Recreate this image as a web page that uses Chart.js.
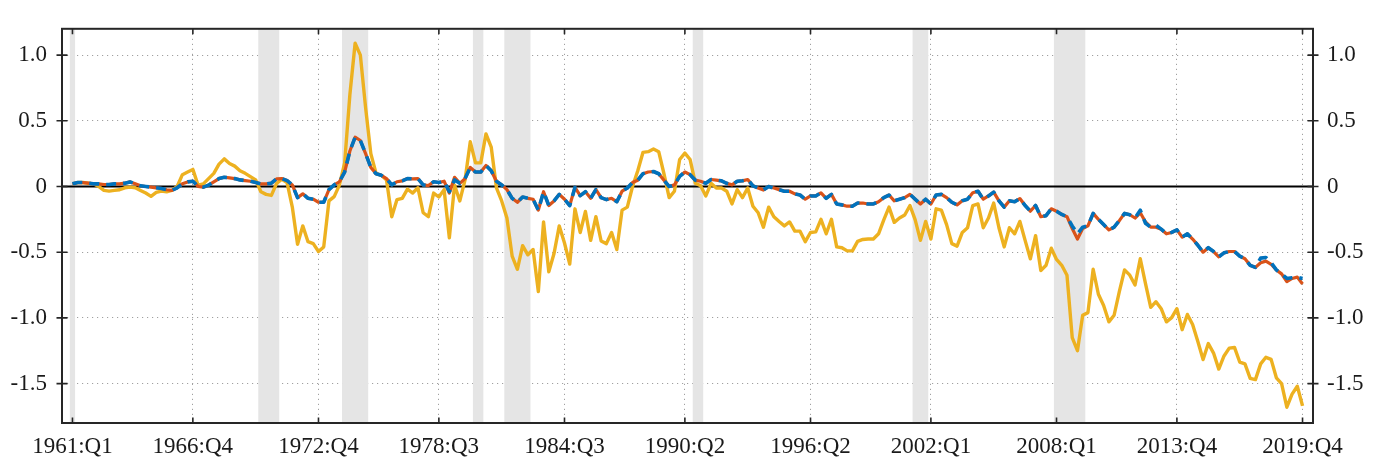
<!DOCTYPE html>
<html>
<head>
<meta charset="utf-8">
<script src="https://cdn.jsdelivr.net/npm/chart.js@4.4.1/dist/chart.umd.min.js"></script>
<style>
html,body{margin:0;padding:0;background:#fff;overflow:hidden}
#wrap{width:1383px;height:464px;position:relative}
</style>
</head>
<body>
<div id="wrap"><canvas id="c"></canvas></div>
<script>
// ---- categories (quarters) ----
const firstYear = 1961, lastYear = 2019;
const categories = [];
for (let yr = firstYear; yr <= lastYear; yr++) for (let q = 1; q <= 4; q++) categories.push(yr + ':Q' + q);

// ---- tick labels ----
const tickLabels = ['1961:Q1','1966:Q4','1972:Q4','1978:Q3','1984:Q3','1990:Q2','1996:Q2','2002:Q1','2008:Q1','2013:Q4','2019:Q4'];
const yTicks = [-1.5, -1.0, -0.5, 0, 0.5, 1.0];

// ---- recession periods (shaded quarters) ----
const recessionStart = ['1961:Q1','1970:Q1','1974:Q1','1980:Q2','1981:Q4','1990:Q4','2001:Q2','2008:Q1'];
const recessionEnd   = ['1961:Q1','1970:Q4','1975:Q1','1980:Q3','1982:Q4','1991:Q1','2001:Q4','2009:Q2'];

// ---- series ----
const seriesBlue = [
 0.02,0.03,0.03,0.025,0.02,0.02,0.015,0.015,0.02,0.02,
 0.025,0.035,0.02,0.005,0,-0.005,-0.01,-0.015,-0.025,-0.03,
 -0.01,0.02,0.035,0.04,0.0,-0.005,0.01,0.035,0.06,0.07,
 0.065,0.06,0.05,0.045,0.04,0.03,0.02,0.02,0.025,0.058,
 0.06,0.045,0.012,-0.085,-0.056,-0.09,-0.097,-0.12,-0.12,-0.024,
 0.012,0.036,0.11,0.27,0.375,0.35,0.25,0.145,0.097,0.085,
 0.06,0.012,0.036,0.043,0.06,0.058,0.06,0.012,0.007,0.036,
 0.03,0.04,-0.04,0.05,0.024,0.06,0.145,0.11,0.11,0.16,
 0.12,0.04,0.012,-0.024,-0.09,-0.12,-0.08,-0.09,-0.097,-0.18,
 -0.04,-0.145,-0.11,-0.06,-0.097,-0.145,-0.007,-0.07,-0.04,-0.09,
 -0.024,-0.085,-0.1,-0.09,-0.116,-0.036,-0.012,0.03,0.048,0.097,
 0.11,0.114,0.097,0.048,0.0,0.012,0.077,0.11,0.09,0.048,
 0.04,0.024,0.053,0.048,0.043,0.024,0.012,0.04,0.043,0.053,
 0.005,-0.012,-0.027,0.0,-0.012,-0.024,-0.036,-0.036,-0.056,-0.065,
 -0.097,-0.072,-0.072,-0.048,-0.09,-0.06,-0.133,-0.14,-0.15,-0.15,
 -0.126,-0.126,-0.133,-0.133,-0.116,-0.085,-0.065,-0.109,-0.097,-0.085,
 -0.06,-0.097,-0.133,-0.097,-0.133,-0.065,-0.06,-0.085,-0.12,-0.14,
 -0.109,-0.097,-0.048,-0.036,-0.097,-0.072,-0.043,-0.109,-0.157,-0.109,
 -0.116,-0.092,-0.145,-0.188,-0.145,-0.23,-0.222,-0.17,-0.188,-0.213,
 -0.23,-0.3,-0.36,-0.31,-0.3,-0.205,-0.25,-0.29,-0.33,-0.31,
 -0.26,-0.205,-0.215,-0.24,-0.18,-0.28,-0.31,-0.295,-0.325,-0.36,
 -0.35,-0.33,-0.385,-0.36,-0.4,-0.447,-0.5,-0.466,-0.495,-0.535,
 -0.505,-0.495,-0.495,-0.53,-0.55,-0.6,-0.616,-0.545,-0.54,-0.58,
 -0.635,-0.665,-0.7,-0.695,-0.69,-0.7
];
const seriesRed = [
 0.02,0.03,0.03,0.025,0.02,0.02,0.015,0.015,0.02,0.02,
 0.025,0.035,0.02,0.005,0,-0.005,-0.01,-0.015,-0.025,-0.03,
 -0.01,0.02,0.035,0.04,0.0,-0.005,0.01,0.035,0.06,0.07,
 0.065,0.06,0.05,0.045,0.04,0.03,0.02,0.02,0.025,0.058,
 0.06,0.045,0.012,-0.085,-0.056,-0.09,-0.097,-0.12,-0.12,-0.024,
 0.012,0.036,0.11,0.27,0.375,0.35,0.25,0.145,0.097,0.085,
 0.06,0.012,0.036,0.043,0.06,0.058,0.06,0.012,0.007,0.036,
 0.03,0.04,-0.05,0.07,0.024,0.06,0.145,0.11,0.11,0.16,
 0.12,0.04,0.012,-0.024,-0.09,-0.12,-0.08,-0.09,-0.097,-0.18,
 -0.04,-0.145,-0.11,-0.06,-0.097,-0.145,-0.007,-0.07,-0.04,-0.09,
 -0.024,-0.085,-0.1,-0.09,-0.116,-0.036,-0.012,0.03,0.048,0.097,
 0.11,0.114,0.097,0.048,0.0,0.012,0.077,0.11,0.09,0.048,
 0.04,0.024,0.053,0.048,0.043,0.024,0.012,0.04,0.043,0.053,
 0.005,-0.012,-0.027,0.0,-0.012,-0.024,-0.036,-0.036,-0.056,-0.065,
 -0.097,-0.072,-0.072,-0.048,-0.09,-0.06,-0.133,-0.14,-0.15,-0.15,
 -0.126,-0.126,-0.133,-0.133,-0.116,-0.085,-0.065,-0.109,-0.097,-0.085,
 -0.06,-0.097,-0.133,-0.097,-0.133,-0.065,-0.06,-0.085,-0.12,-0.14,
 -0.109,-0.097,-0.048,-0.036,-0.097,-0.072,-0.043,-0.109,-0.157,-0.109,
 -0.116,-0.092,-0.145,-0.188,-0.145,-0.23,-0.222,-0.17,-0.188,-0.213,
 -0.23,-0.32,-0.4,-0.32,-0.3,-0.205,-0.25,-0.29,-0.33,-0.31,
 -0.26,-0.205,-0.215,-0.24,-0.2,-0.27,-0.31,-0.31,-0.325,-0.36,
 -0.35,-0.33,-0.385,-0.36,-0.4,-0.447,-0.5,-0.466,-0.495,-0.535,
 -0.505,-0.495,-0.495,-0.53,-0.55,-0.6,-0.616,-0.58,-0.568,-0.592,
 -0.635,-0.665,-0.724,-0.7,-0.69,-0.742
];
const seriesYellow = [
 0.02,0.03,0.03,0.025,0.02,0.0,-0.03,-0.035,-0.03,-0.025,
 -0.01,-0.005,-0.01,-0.03,-0.05,-0.075,-0.045,-0.035,-0.04,-0.03,
 0.0,0.09,0.11,0.13,0.01,0.02,0.06,0.1,0.17,0.21,
 0.175,0.155,0.12,0.1,0.075,0.05,-0.04,-0.06,-0.068,0.024,
 0.055,0.03,-0.157,-0.44,-0.3,-0.42,-0.435,-0.495,-0.46,-0.11,
 -0.077,0.01,0.18,0.7,1.09,1.0,0.6,0.25,0.1,0.085,
 0.05,-0.23,-0.1,-0.09,-0.02,-0.05,-0.01,-0.2,-0.23,-0.05,
 -0.08,-0.024,-0.39,0.01,-0.11,0.05,0.34,0.18,0.18,0.4,
 0.3,-0.01,-0.11,-0.24,-0.53,-0.63,-0.45,-0.52,-0.48,-0.8,
 -0.27,-0.65,-0.51,-0.3,-0.43,-0.59,-0.17,-0.35,-0.19,-0.41,
 -0.23,-0.415,-0.435,-0.35,-0.48,-0.18,-0.157,0.0,0.12,0.26,
 0.265,0.285,0.265,0.097,-0.085,-0.036,0.205,0.254,0.205,0.024,
 0.005,-0.072,0.024,-0.012,-0.012,-0.036,-0.133,-0.024,-0.085,-0.012,
 -0.15,-0.2,-0.31,-0.157,-0.23,-0.266,-0.3,-0.27,-0.34,-0.34,
 -0.42,-0.35,-0.345,-0.25,-0.36,-0.25,-0.46,-0.466,-0.49,-0.49,
 -0.418,-0.403,-0.4,-0.4,-0.36,-0.254,-0.157,-0.273,-0.24,-0.217,
 -0.145,-0.254,-0.41,-0.266,-0.4,-0.17,-0.18,-0.29,-0.435,-0.454,
 -0.35,-0.314,-0.145,-0.133,-0.314,-0.24,-0.126,-0.314,-0.46,-0.314,
 -0.36,-0.266,-0.41,-0.55,-0.374,-0.64,-0.6,-0.47,-0.555,-0.6,
 -0.676,-1.15,-1.25,-0.98,-0.96,-0.63,-0.82,-0.906,-1.03,-0.98,
 -0.8,-0.635,-0.675,-0.75,-0.55,-0.74,-0.92,-0.877,-0.93,-1.03,
 -0.998,-0.93,-1.09,-0.974,-1.05,-1.18,-1.317,-1.195,-1.268,-1.39,
 -1.29,-1.23,-1.225,-1.336,-1.35,-1.46,-1.47,-1.35,-1.3,-1.316,
 -1.456,-1.5,-1.68,-1.58,-1.52,-1.67
];

const toXY = arr => arr.map((v, i) => ({ x: i, y: v }));
const tickIdx = tickLabels.map(l => categories.indexOf(l));

const FONT = "'Liberation Serif','Times New Roman',serif";
const AXIS = '#1a1a1a';

const decor = {
  id: 'decor',
  beforeDatasetsDraw(chart) {
    const { ctx, chartArea: a, scales: { x, y } } = chart;
    ctx.save();
    ctx.beginPath();
    ctx.rect(a.left, a.top, a.right - a.left, a.bottom - a.top);
    ctx.clip();
    ctx.fillStyle = '#e5e5e5';
    recessionStart.forEach((s, k) => {
      const x0 = x.getPixelForValue(categories.indexOf(s) - 0.5);
      const x1 = x.getPixelForValue(categories.indexOf(recessionEnd[k]) + 0.5);
      ctx.fillRect(x0, a.top, x1 - x0, a.bottom - a.top);
    });
    const y0 = y.getPixelForValue(0);
    ctx.strokeStyle = '#000';
    ctx.lineWidth = 2;
    ctx.beginPath();
    ctx.moveTo(a.left, y0);
    ctx.lineTo(a.right, y0);
    ctx.stroke();
    ctx.restore();
  },
  afterDraw(chart) {
    const { ctx, chartArea: a, scales: { x, y } } = chart;
    ctx.save();
    ctx.strokeStyle = '#262626';
    ctx.lineWidth = 2;
    ctx.strokeRect(a.left, a.top, a.right - a.left, a.bottom - a.top);
    ctx.lineWidth = 1.6;
    ctx.beginPath();
    yTicks.forEach(v => {
      const py = y.getPixelForValue(v);
      ctx.moveTo(a.left - 5.5, py); ctx.lineTo(a.left + 5.5, py);
      ctx.moveTo(a.right - 5.5, py); ctx.lineTo(a.right + 5.5, py);
    });
    tickIdx.forEach(i => {
      const px = x.getPixelForValue(i);
      ctx.moveTo(px, a.bottom); ctx.lineTo(px, a.bottom - 5.5);
      ctx.moveTo(px, a.top); ctx.lineTo(px, a.top + 5.5);
    });
    ctx.stroke();
    ctx.restore();
  }
};

const gridCommon = { color: '#a0a0a0', lineWidth: 1, drawTicks: false };

new Chart(document.getElementById('c'), {
  type: 'line',
  data: {
    datasets: [
      { data: toXY(seriesBlue), borderColor: '#0072BD', borderWidth: 3.6, borderDash: [10, 7], order: 1 },
      { data: toXY(seriesRed), borderColor: '#D95319', borderWidth: 3.2, order: 2 },
      { data: toXY(seriesYellow), borderColor: '#EDB120', borderWidth: 3.4, order: 3 }
    ]
  },
  options: {
    responsive: true,
    maintainAspectRatio: false,
    animation: false,
    devicePixelRatio: 1,
    layout: { padding: { top: 10, left: 0, right: 0, bottom: 0 } },
    elements: {
      point: { radius: 0 },
      line: { tension: 0, fill: false, borderJoinStyle: 'round', borderCapStyle: 'butt' }
    },
    plugins: { legend: { display: false }, tooltip: { enabled: false } },
    scales: {
      x: {
        type: 'linear',
        min: -2,
        max: 237,
        afterBuildTicks: s => { s.ticks = tickIdx.map(v => ({ value: v })); },
        afterFit: s => { s.height = 41; },
        grid: gridCommon,
        border: { display: false, dash: [1.2, 3.8] },
        ticks: {
          autoSkip: false, maxRotation: 0, minRotation: 0, padding: 10,
          color: AXIS, font: { family: FONT, size: 23 },
          callback: v => categories[v]
        }
      },
      y: {
        position: 'left',
        min: -1.8,
        max: 1.2,
        afterBuildTicks: s => { s.ticks = yTicks.map(v => ({ value: v })); },
        afterFit: s => { s.width = 62; },
        grid: gridCommon,
        border: { display: false, dash: [1.2, 3.8] },
        ticks: {
          padding: 15, color: AXIS, font: { family: FONT, size: 23 },
          callback: v => (v === 0 ? '0' : v.toFixed(1))
        }
      },
      y2: {
        position: 'right',
        min: -1.8,
        max: 1.2,
        afterBuildTicks: s => { s.ticks = yTicks.map(v => ({ value: v })); },
        afterFit: s => { s.width = 70; },
        grid: { display: false, drawTicks: false },
        border: { display: false },
        ticks: {
          padding: 14, color: AXIS, font: { family: FONT, size: 23 },
          callback: v => (v === 0 ? '0' : v.toFixed(1))
        }
      }
    }
  },
  plugins: [decor]
});
</script>
</body>
</html>
